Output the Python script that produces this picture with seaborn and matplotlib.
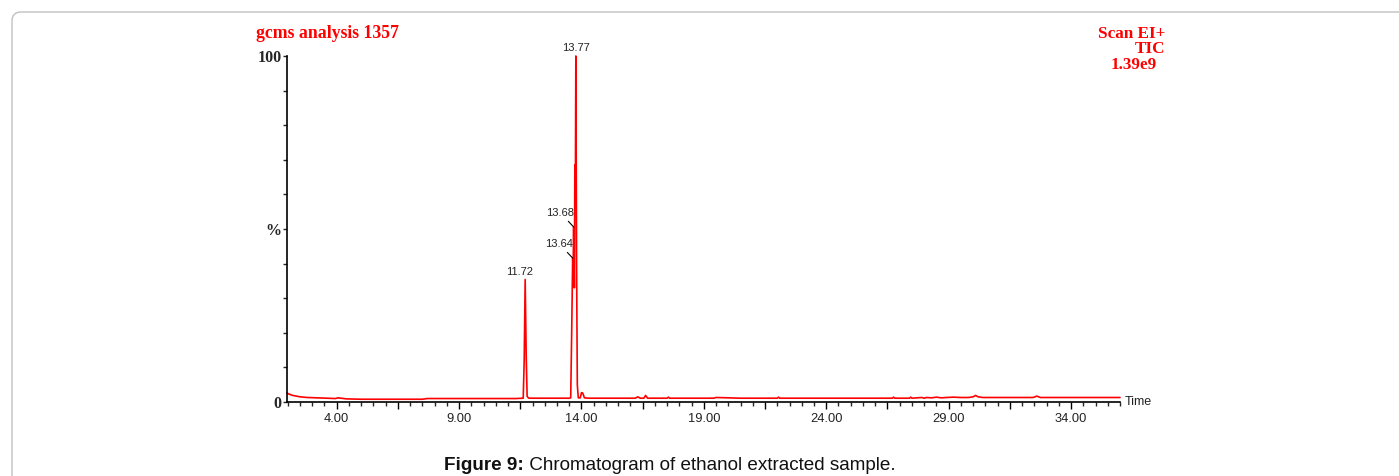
import matplotlib
matplotlib.use("Agg")
import matplotlib.pyplot as plt
import seaborn as sns
import pandas as pd
from matplotlib.patches import FancyBboxPatch
from matplotlib.transforms import IdentityTransform
from matplotlib.ticker import FixedLocator, FixedFormatter, MultipleLocator

# ---------------- data ----------------
time_min = [1.97, 2.05, 2.2, 2.5, 2.8, 3.2, 3.6, 3.95, 4.05, 4.4, 5.0, 6.0, 7.0, 7.5,
            7.7, 8.5, 9.5, 10.5, 11.3, 11.62, 11.66, 11.70, 11.74, 11.78,
            11.85, 12.5, 13.0, 13.5, 13.56, 13.6, 13.64, 13.66, 13.68, 13.71, 13.73,
            13.75, 13.77, 13.8, 13.83, 13.87, 13.95, 14.0, 14.05, 14.12, 14.3, 14.8,
            15.5, 16.2, 16.3, 16.4, 16.55, 16.62, 16.7, 17.5, 17.55, 17.6, 19.0, 19.4,
            19.5, 20.5, 22.0, 22.05, 22.1, 23.0, 25.0, 26.7, 26.75, 26.8, 27.4, 27.45,
            27.5, 27.9, 28.0, 28.1, 28.3, 28.5, 28.7, 28.9, 29.2, 29.5, 29.8, 30.0,
            30.1, 30.2, 30.4, 31.0, 32.0, 32.45, 32.6, 32.75, 33.0, 34.0, 35.0, 36.0]
intensity_pct = [2.6, 2.3, 1.9, 1.5, 1.3, 1.2, 1.1, 1.0, 1.2, 0.9, 0.8, 0.8, 0.8, 0.8,
                 1.0, 1.0, 1.0, 1.0, 1.0, 1.1, 12.0, 35.4, 14.0, 1.6,
                 1.1, 1.1, 1.1, 1.1, 1.2, 20.0, 41.6, 39.0, 50.6, 33.0, 68.5,
                 60.0, 100.0, 40.0, 5.0, 1.2, 1.2, 2.7, 2.6, 1.2, 1.1, 1.1,
                 1.1, 1.1, 1.5, 1.1, 1.1, 1.9, 1.1, 1.1, 1.4, 1.1, 1.1, 1.1,
                 1.3, 1.1, 1.1, 1.4, 1.1, 1.1, 1.1, 1.1, 1.4, 1.1, 1.1, 1.4,
                 1.1, 1.3, 1.1, 1.3, 1.2, 1.4, 1.2, 1.3, 1.4, 1.3, 1.3, 1.5,
                 1.9, 1.5, 1.3, 1.3, 1.3, 1.3, 1.7, 1.3, 1.3, 1.3, 1.3, 1.3]

peak_times = [11.70, 13.64, 13.68, 13.77]
peak_heights = [35.4, 41.6, 50.6, 100.0]
peak_labels = ["11.72", "13.64", "13.68", "13.77"]

xtick_values = [4.0, 6.5, 9.0, 11.5, 14.0, 16.5, 19.0, 21.5, 24.0, 26.5, 29.0, 31.5, 34.0]
xtick_labels = ["4.00", "", "9.00", "", "14.00", "", "19.00", "", "24.00", "", "29.00", "", "34.00"]
ytick_values = [0, 10, 20, 30, 40, 50, 60, 70, 80, 90, 100]
ytick_labels = ["0", "", "", "", "", "%", "", "", "", "", "100"]

title_left = "gcms analysis 1357"
title_right = ["Scan EI+", "TIC", "1.39e9"]
caption_bold = "Figure 9:"
caption_rest = " Chromatogram of ethanol extracted sample."

# ---------------- figure ----------------
sns.set_style("ticks")
W, H = 1399, 476
fig = plt.figure(figsize=(W / 100, H / 100), dpi=100)
fig.patch.set_facecolor("white")

# rounded frame
frame = FancyBboxPatch((12, -30), 1420, H - 12 + 30, boxstyle="round,pad=0,rounding_size=9",
                       transform=IdentityTransform(), facecolor="none",
                       edgecolor="#c0c0c0", linewidth=1.0)
fig.patches.append(frame)

L, R, T, B = 287, 1120, 56, 402
ax = fig.add_axes([L / W, 1 - B / H, (R - L) / W, (B - T) / H])
ax.set_facecolor("none")

df = pd.DataFrame({"Time": time_min, "Intensity": intensity_pct})
sns.lineplot(data=df, x="Time", y="Intensity", ax=ax, color="#ff0000", lw=1.2,
             estimator=None, sort=False)
for ln in ax.lines:
    ln.set_clip_on(False)

ax.set_xlim(1.97, 36.0)
ax.set_ylim(0, 100)
ax.set_xlabel("")
ax.set_ylabel("")

for s in ["top", "right"]:
    ax.spines[s].set_visible(False)
for s in ["left", "bottom"]:
    ax.spines[s].set_color("black")
    ax.spines[s].set_linewidth(1.2)

ax.xaxis.set_major_locator(FixedLocator(xtick_values))
ax.xaxis.set_major_formatter(FixedFormatter(xtick_labels))
ax.xaxis.set_minor_locator(MultipleLocator(0.5))
ax.tick_params(axis="x", which="major", direction="out", length=5, width=1, pad=3,
               labelsize=9.3, colors="black")
ax.tick_params(axis="x", which="minor", direction="out", length=3, width=1)
for lab in ax.get_xticklabels():
    lab.set_fontfamily("Liberation Sans")
    lab.set_color("#222222")

ax.yaxis.set_major_locator(FixedLocator(ytick_values))
ax.yaxis.set_major_formatter(FixedFormatter(ytick_labels))
ax.tick_params(axis="y", which="major", direction="out", length=3, width=1, pad=1,
               labelsize=11.5)
for lab in ax.get_yticklabels():
    lab.set_fontfamily("Liberation Serif")
    lab.set_fontweight("bold")

ax.text(1.006, 0, "Time", transform=ax.transAxes, ha="left", va="center",
        fontsize=9, fontfamily="Liberation Sans", color="#222222")

# peak labels
offsets = {"11.72": (-4, 2, "bottom", False), "13.64": (-9.5, 10, "center", True),
           "13.68": (-9.5, 10, "center", True), "13.77": (0, 2, "bottom", False)}
for t, h, lab in zip(peak_times, peak_heights, peak_labels):
    dx, dy, va, lead = offsets[lab]
    kw = {}
    if lead:
        kw["arrowprops"] = dict(arrowstyle="-", color="black", lw=0.8, shrinkA=0, shrinkB=0)
    ax.annotate(lab, xy=(t, h), xytext=(dx, dy), textcoords="offset points",
                ha="center", va=va, fontsize=8, fontfamily="Liberation Sans",
                color="#222222", **kw)

# red header texts
red = "#ff0000"
fig.text(256 / W, 1 - 34 / H, title_left, ha="left", va="center", color=red,
         fontfamily="Liberation Serif", fontweight="bold", fontsize=12.8)
fig.text(1165 / W, 1 - 34 / H, title_right[0], ha="right", va="center", color=red,
         fontfamily="Liberation Serif", fontweight="bold", fontsize=12.3)
fig.text(1165 / W, 1 - 49 / H, title_right[1], ha="right", va="center", color=red,
         fontfamily="Liberation Serif", fontweight="bold", fontsize=12.3)
fig.text(1157 / W, 1 - 65 / H, title_right[2], ha="right", va="center", color=red,
         fontfamily="Liberation Serif", fontweight="bold", fontsize=12.3)

# caption
fig.canvas.draw()
renderer = fig.canvas.get_renderer()
cap_fs = 13.6
tb = fig.text(0, 1 - 466 / H, caption_bold, ha="left", va="center", fontsize=cap_fs,
              fontfamily="Liberation Sans", fontweight="bold", color="#111111")
tr = fig.text(0, 1 - 466 / H, caption_rest, ha="left", va="center", fontsize=cap_fs,
              fontfamily="Liberation Sans", color="#111111")
wb = tb.get_window_extent(renderer).width
wr = tr.get_window_extent(renderer).width
x0 = 670 - (wb + wr) / 2
tb.set_x(x0 / W)
tr.set_x((x0 + wb) / W)

fig.savefig("out.png", dpi=100)
